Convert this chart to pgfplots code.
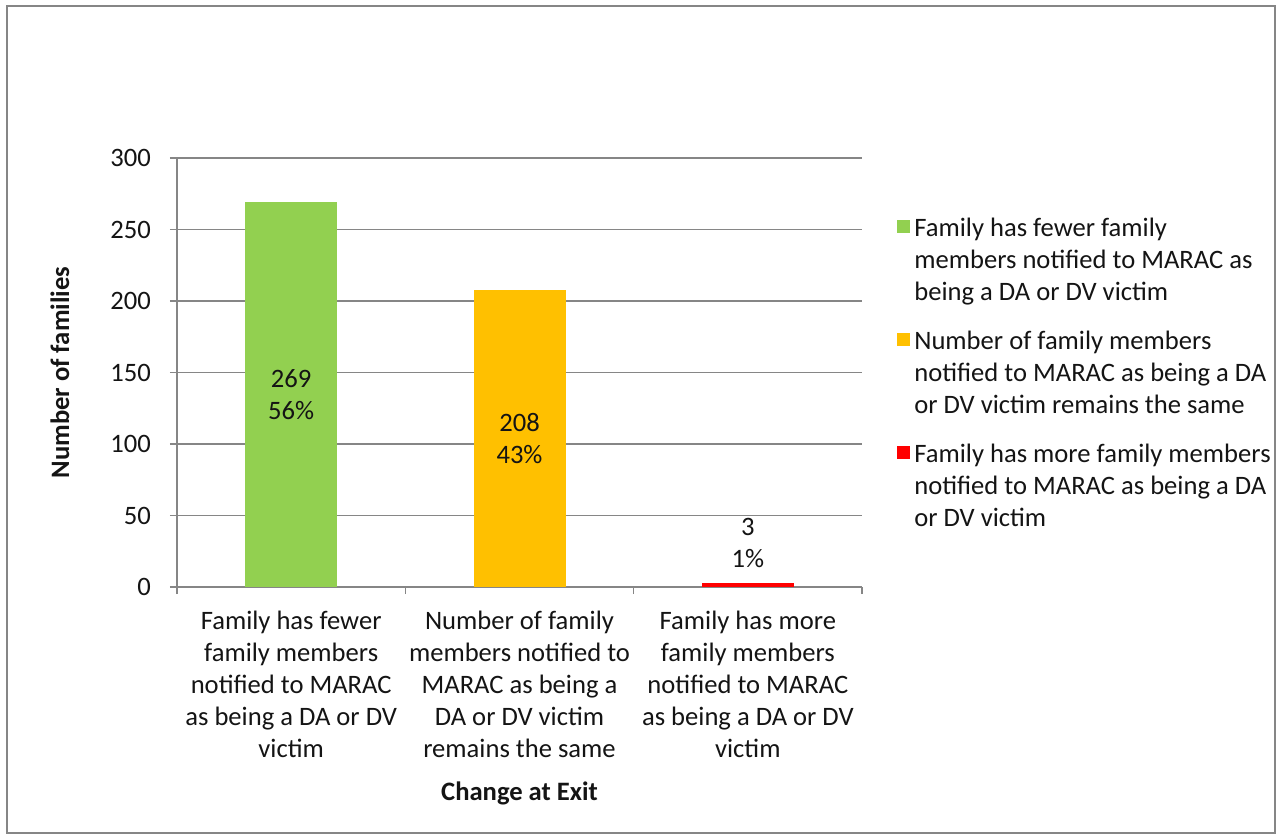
\documentclass[border=0pt]{standalone}
\usepackage{pgfplots}
\pgfplotsset{compat=1.18}
\usepackage{fontspec}
\setmainfont{Carlito}
\definecolor{cgreen}{RGB}{146,208,80}
\definecolor{corange}{RGB}{255,192,0}
\definecolor{cred}{RGB}{255,0,0}
\definecolor{cgrid}{RGB}{134,134,134}
\definecolor{ctext}{RGB}{20,20,20}
\newcommand{\cf}{\fontsize{13.3}{16}\selectfont}
\begin{document}
\begin{tikzpicture}[x=1pt,y=1pt]
\path[use as bounding box] (0,0) rectangle (638.5,418);
\begin{axis}[
  at={(88.5pt,124.5pt)}, anchor=south west,
  scale only axis, width=342.5pt, height=214.5pt,
  ymin=0, ymax=300, ytick={0,50,...,300},
  xmin=-0.5, xmax=2.5,
  xtick={0,1,2},
  xticklabels={{Family has fewer\\family members\\notified to MARAC\\as being a DA or DV\\victim},
               {Number of family\\members notified to\\MARAC as being a\\DA or DV victim\\remains the same},
               {Family has more\\family members\\notified to MARAC\\as being a DA or DV\\victim}},
  minor xtick={-0.5,0.5,1.5,2.5},
  major x tick style={draw=none},
  minor tick length=3.5pt,
  major tick length=3.5pt,
  tick align=outside,
  tick style={cgrid, line width=0.6pt},
  ymajorgrids, grid style={cgrid, line width=0.6pt},
  axis x line*=bottom, axis y line*=left,
  axis line style={cgrid, line width=0.6pt, -},
  /pgf/number format/assume math mode=true,
  ticklabel style={font=\cf, text=ctext},
  xticklabel style={align=center, anchor=north, yshift=-5pt},
  yticklabel style={xshift=-6pt},
  ybar, bar width=46pt, bar shift=0pt,
  xlabel={\textbf{Change at Exit}},
  ylabel={\textbf{Number of families}},
  label style={font=\cf, text=ctext},
  xlabel style={at={(axis description cs:0.5,-0.482)}, anchor=center},
  ylabel style={at={(axis description cs:-0.1708,0.5)}, anchor=center, rotate=0},
  legend cell align=left,
  legend image code/.code={\fill[#1, draw=none] (0pt,-9.75pt) rectangle (6.5pt,-3.25pt);},
  legend style={at={(axis description cs:1.051,0.8717)}, anchor=north west, draw=none, fill=none,
    font=\cf, text=ctext, row sep=9.5pt, inner sep=0pt,
    cells={align=left, anchor=north west, inner sep=0pt}},
]
\addplot[fill=cgreen, draw=none] coordinates {(0,269)};
\addlegendentry{Family has fewer family\\members notified to MARAC as\\being a DA or DV victim}
\addplot[fill=corange, draw=none] coordinates {(1,208)};
\addlegendentry{Number of family members\\notified to MARAC as being a DA\\or DV victim remains the same}
\addplot[fill=cred, draw=none] coordinates {(2,3)};
\addlegendentry{Family has more family members\\notified to MARAC as being a DA\\or DV victim}
\node[font=\cf, text=ctext, align=center] at (axis cs:0,134.5) {269\\56\%};
\node[font=\cf, text=ctext, align=center] at (axis cs:1,104) {208\\43\%};
\node[font=\cf, text=ctext, align=center] at (axis cs:2,30.5) {3\\1\%};
\end{axis}
\draw[color=gray!95, line width=1.2pt] (3.5,1.5) rectangle (637.5,415);
\end{tikzpicture}
\end{document}
